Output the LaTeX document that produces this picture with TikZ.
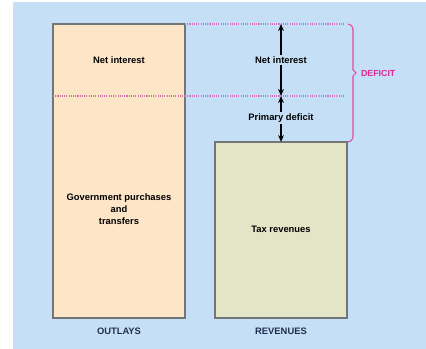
\documentclass[tikz,border=0pt]{standalone}
\usepackage{fontspec}
\setmainfont{Liberation Sans}
\usetikzlibrary{arrows.meta,positioning,calc}
\definecolor{skyback}{RGB}{197,224,246}
\definecolor{outlayfill}{RGB}{253,229,200}
\definecolor{revfill}{RGB}{227,229,198}
\definecolor{boxline}{RGB}{115,118,120}
\definecolor{deficitpink}{RGB}{222,40,150}
\definecolor{dotpink}{RGB}{215,110,200}
\definecolor{captionblue}{RGB}{35,45,80}

\begin{document}
\begin{tikzpicture}[x=0.03cm,y=-0.03cm,
    bar/.style={draw=boxline,line width=1pt},
    lbl/.style={font=\fontsize{8}{10.5}\selectfont\bfseries,align=center,text=black},
    axislbl/.style={font=\fontsize{8}{10}\selectfont\bfseries,text=captionblue},
    dots/.style={dotpink,densely dotted,line width=0.9pt},
    arr/.style={-{Stealth[length=6pt,width=5pt]},line width=1.4pt,black}
]
\useasboundingbox (0,0) rectangle (426,349);
\fill[skyback] (13,2) rectangle (426,349);

% bars
\filldraw[bar,fill=outlayfill] (53,24) rectangle (185,318);
\filldraw[bar,fill=revfill] (215,142) rectangle (347,318);
\draw[dots,dotpink!75!brown] (53,96) -- (185,96);
\draw[dots] (185,24) -- (345,24);
\draw[dots] (185,96) -- (345,96);

% labels in the bars
\node[lbl] (intL) at (119,60) {Net interest};
\node[lbl] (gov) at (119,209) {Government purchases\\and\\transfers};
\node[lbl] (tax) at (281,229) {Tax revenues};
\node[axislbl] (outl) at (119,331) {OUTLAYS};
\node[axislbl] (reven) at (281,331) {REVENUES};

% measured gaps
\coordinate (top) at (281,24);
\coordinate (mid) at (281,96);
\coordinate (low) at (281,142);
\node[lbl,fill=skyback,inner sep=1pt] (intR) at (281,60) {Net interest};
\node[lbl,fill=skyback,inner sep=1pt] (prim) at (281,118) {Primary deficit};
\draw[arr] (intR) -- (top);
\draw[arr] (intR) -- (mid);
\draw[arr] (prim) -- (mid);
\draw[arr] (prim) -- (low);

% bracket
\draw[deficitpink!85,line width=0.9pt] (348,24) to[out=0,in=90] (353,29) -- (353,70)
  -- (356,73) -- (353,76) -- (353,137) to[out=-90,in=0] (348,142);
\node[font=\fontsize{7.5}{9}\selectfont\bfseries,text=deficitpink,anchor=west] (def) at (357,73) {DEFICIT};
\end{tikzpicture}
\end{document}
